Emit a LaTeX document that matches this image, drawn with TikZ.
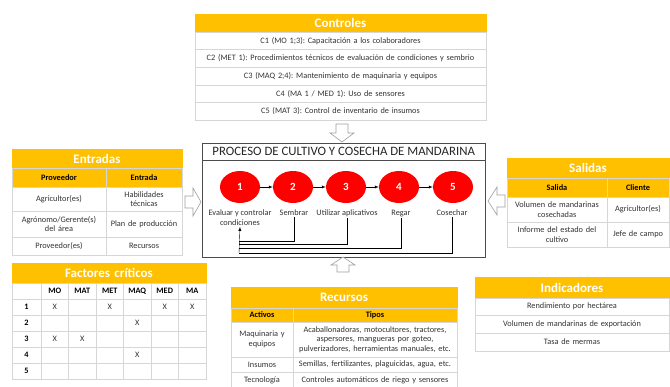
\documentclass[tikz,border=0pt]{standalone}
\usepackage{fontspec}
\setmainfont{Carlito}
\frenchspacing
\usetikzlibrary{shapes.geometric,positioning,calc}
\definecolor{oro}{HTML}{FFC000}
\definecolor{rojo}{HTML}{FF0000}
\definecolor{borde}{HTML}{D6D6D6}

\begin{document}
\begin{tikzpicture}
[x=1pt,y=-1pt,>=latex,
cell/.style = {draw=borde, fill=white, anchor=north west, inner sep=1pt, outer sep=0pt, align=center, text=black!80, font=\fontsize{8.3}{9.6}\selectfont},
hdr/.style = {cell, draw=oro, fill=oro, text=white, font=\fontsize{13}{14}\selectfont\bfseries},
sub/.style = {cell, fill=oro, text=black, font=\fontsize{8.3}{9.6}\selectfont\bfseries},
negra/.style = {cell, text=black, font=\fontsize{8.3}{9.6}\selectfont\bfseries},
paso/.style = {ellipse, fill=rojo, minimum width=40pt, minimum height=32pt, inner sep=0pt, text=white, font=\fontsize{11}{12}\selectfont\bfseries},
etiq/.style = {anchor=north, align=center, inner sep=1pt, text=black!80, font=\fontsize{8.3}{9.6}\selectfont},
hueca/.style = {draw=gray!75, fill=white, line width=0.6pt, line join=miter},]
\useasboundingbox (0,0) rectangle (670,387);

\node[hdr, text width=289, minimum height=18] (ctrl) at (195,14) {Controles};
\foreach \t [count=\i] in {C1 (MO 1;3): Capacitación a los colaboradores,
  C2 (MET 1): Procedimientos técnicos de evaluación de condiciones y sembrio,
  C3 (MAQ 2;4): Mantenimiento de maquinaria y equipos,
  C4 (MA 1 / MED 1): Uso de sensores,
  C5 (MAT 3): Control de inventario de insumos}
  \node[cell, text width=289, minimum height=17.6] (c\i) at (195,{32+17.6*(\i-1)}) {\t};

\node[draw=black!70, minimum width=283, minimum height=114, anchor=north west, inner sep=0pt] (proc) at (202,143) {};
\node[anchor=north, minimum height=17, inner sep=0pt, text=black!85, font=\fontsize{12.8}{14}\selectfont] (tit) at (proc.north) {PROCESO DE CULTIVO Y COSECHA DE MANDARINA};
\draw[black!70] (tit.south -| proc.west) -- (tit.south -| proc.east);

\foreach \x/\n in {240/1,293/2,346/3,399/4,453/5}
  \node[paso] (p\n) at (\x,187) {\n};
\foreach \a/\b in {1/2,2/3,3/4,4/5}
  \draw[->] (p\a) -- (p\b);

\node[etiq] (l1) at (240,209) {Evaluar y controlar\\condiciones};
\node[etiq] (l2) at (294,209) {Sembrar};
\node[etiq] (l3) at (347,209) {Utilizar aplicativos};
\node[etiq] (l4) at (401,209) {Regar};
\node[etiq] (l5) at (452,209) {Cosechar};

\coordinate (fb2) at (239,241);
\coordinate (fb3) at (239,244);
\coordinate (fb4) at (239,248);
\coordinate (fb5) at (239,253);
\draw (l2.south) |- (fb2);
\draw (l3.south) |- (fb3);
\draw (l4.south) |- (fb4);
\draw (l5.south) |- (fb5);
\draw[->] (fb5) -- (l1.south);

\node[hdr, text width=168, minimum height=19] (ent) at (12,149) {Entradas};
\node[sub, text width=92, minimum height=19] (ent1) at (12,168) {Proveedor};
\node[sub, text width=74, minimum height=19] (ent2) at (106,168) {Entrada};
\node[cell, text width=92, minimum height=24] (e11) at (12,187) {Agricultor(es)};
\node[cell, text width=74, minimum height=24] (e12) at (106,187) {Habilidades\\técnicas};
\node[cell, text width=92, minimum height=26] (e21) at (12,211) {Agrónomo/Gerente(s)\\del área};
\node[cell, text width=74, minimum height=26] (e22) at (106,211) {Plan de producción};
\node[cell, text width=92, minimum height=18] (e31) at (12,237) {Proveedor(es)};
\node[cell, text width=74, minimum height=18] (e32) at (106,237) {Recursos};

\node[hdr, text width=160, minimum height=20] (sal) at (507,158) {Salidas};
\node[sub, text width=98, minimum height=19] (sal1) at (507,178) {Salida};
\node[sub, text width=60, minimum height=19] (sal2) at (607,178) {Cliente};
\node[cell, text width=98, minimum height=25] (s11) at (507,197) {Volumen de mandarinas\\cosechadas};
\node[cell, text width=60, minimum height=25] (s12) at (607,197) {Agricultor(es)};
\node[cell, text width=98, minimum height=25] (s21) at (507,222) {Informe del estado del\\cultivo};
\node[cell, text width=60, minimum height=25] (s22) at (607,222) {Jefe de campo};

\node[hdr, text width=192, minimum height=20] (fac) at (12,263) {Factores críticos};
\node[cell, text width=27, minimum height=16] (fc0) at (12,283) {};
\foreach \c [count=\j] in {MO,MAT,MET,MAQ,MED,MA}
  \node[negra, text width=25.5, minimum height=16] (fc\j) at ({41+27.5*(\j-1)},283) {\c};
\foreach \r in {1,...,5} {
  \node[negra, text width=27, minimum height=16] (fr\r) at (12,{283+16*\r}) {\r};
  \foreach \j in {1,...,6}
    \node[cell, text width=25.5, minimum height=16] (f\r\j) at ({41+27.5*(\j-1)},{283+16*\r}) {};
}
\foreach \r/\j in {1/1,1/3,1/5,1/6,2/4,3/1,3/2,4/4}
  \node[text=black!80, font=\fontsize{8.3}{9.6}\selectfont] (x\r\j) at (f\r\j) {X};

\node[hdr, text width=224, minimum height=21] (rec) at (231,287) {Recursos};
\node[sub, text width=60, minimum height=14] (rec1) at (231,308) {Activos};
\node[sub, text width=162, minimum height=14] (rec2) at (293,308) {Tipos};
\node[cell, text width=60, minimum height=35] (r11) at (231,322) {Maquinaria y\\equipos};
\node[cell, text width=162, minimum height=35] (r12) at (293,322) {Acaballonadoras, motocultores, tractores,\\aspersores, mangueras por goteo,\\pulverizadores, herramientas manuales, etc.};
\node[cell, text width=60, minimum height=15] (r21) at (231,357) {Insumos};
\node[cell, text width=162, minimum height=15] (r22) at (293,357) {Semillas, fertilizantes, plaguicidas, agua, etc.};
\node[cell, text width=60, minimum height=16] (r31) at (231,372) {Tecnología};
\node[cell, text width=162, minimum height=16] (r32) at (293,372) {Controles automáticos de riego y sensores};

\node[hdr, text width=192, minimum height=21] (ind) at (475,277) {Indicadores};
\node[cell, text width=192, minimum height=17] (i1) at (475,298) {Rendimiento por hectárea};
\node[cell, text width=192, minimum height=18] (i2) at (475,315) {Volumen de mandarinas de exportación};
\node[cell, text width=192, minimum height=18] (i3) at (475,333) {Tasa de mermas};

\draw[hueca] (336,124) -- (348,124) -- (348,133) -- (354,133) -- (342,142) -- (330,133) -- (336,133) -- cycle;
\draw[hueca] (185,196) -- (193,196) -- (193,188) -- (201,202) -- (193,216) -- (193,208) -- (185,208) -- cycle;
\draw[hueca] (505,195) -- (497,195) -- (497,187) -- (488,201) -- (497,215) -- (497,207) -- (505,207) -- cycle;
\draw[hueca] (337,272) -- (337,265) -- (331,265) -- (343,257) -- (355,265) -- (349,265) -- (349,272) -- cycle;
\end{tikzpicture}
\end{document}
